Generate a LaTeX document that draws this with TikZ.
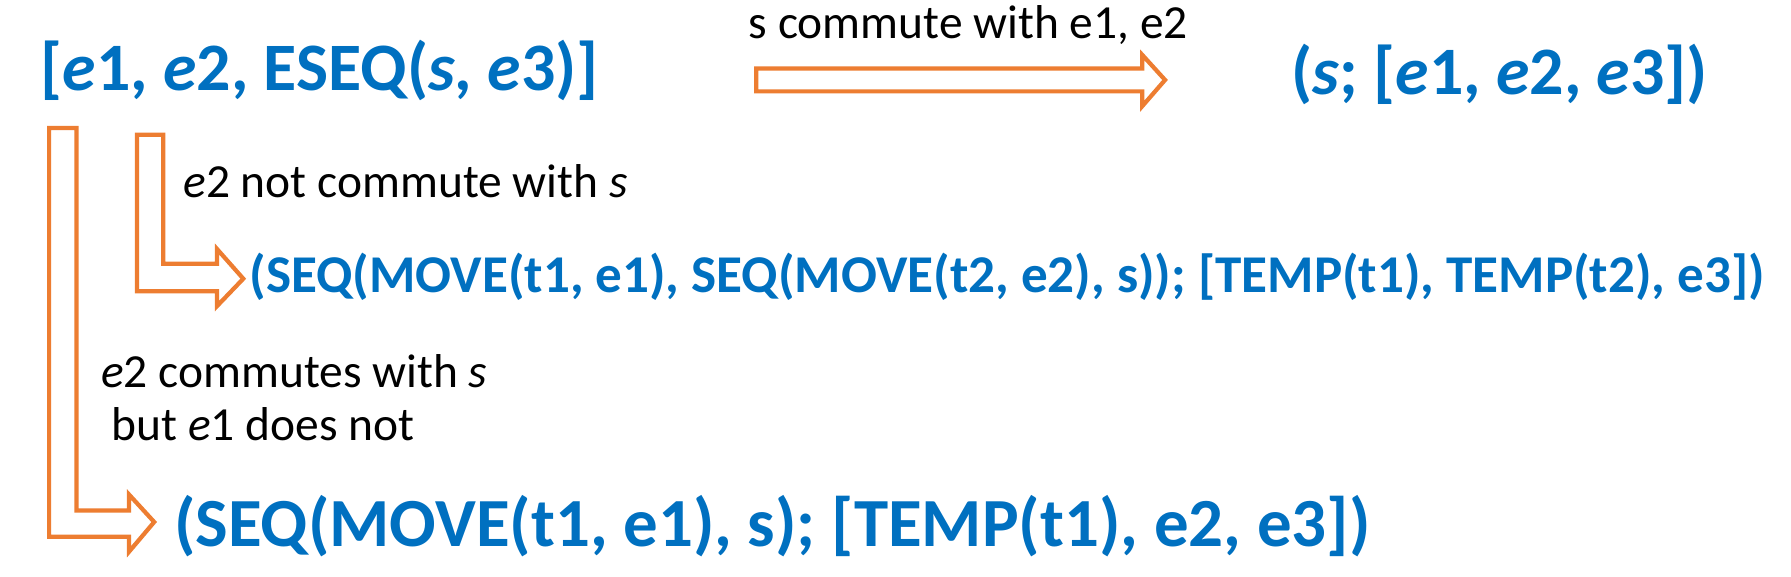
\documentclass[tikz,border=0pt]{standalone}
\usepackage{fontspec}
\setmainfont{Carlito}
\definecolor{tblue}{RGB}{0,112,192}
\definecolor{torange}{RGB}{237,125,49}
\begin{document}
\begin{tikzpicture}[x=0.01142cm,y=-0.01142cm,
  big/.style={anchor=west,inner sep=0,text=tblue,font=\bfseries\fontsize{19.3}{23}\selectfont},
  bot/.style={anchor=west,inner sep=0,text=tblue,font=\bfseries\fontsize{19.6}{23}\selectfont},
  mid/.style={anchor=west,inner sep=0,text=tblue,font=\bfseries\fontsize{15.1}{18}\selectfont},
  lbl/.style={anchor=west,inner sep=0,font=\fontsize{13.5}{16}\selectfont},
  harrow/.style={draw=torange,line width=1.2pt,fill=white}]
\useasboundingbox (0,0) rectangle (1568,505);
\node[big] (a) at (35,62) {[\textit{e}1, \textit{e}2, ESEQ(\textit{s}, \textit{e}3)]};
\node[big] (b) at (1130,65) {(\textit{s}; [\textit{e}1, \textit{e}2, \textit{e}3])};
\node[mid] (c) at (218,242) {(SEQ(MOVE(t1, e1), SEQ(MOVE(t2, e2), s)); [TEMP(t1), TEMP(t2), e3])};
\node[bot] (d) at (152,461) {(SEQ(MOVE(t1, e1), s); [TEMP(t1), e2, e3])};
\node[lbl] (l1) at (655,22) {s commute with e1, e2};
\node[lbl] (l2) at (160,159) {\textit{e}2 not commute with \textit{s}};
\node[lbl] (l3) at (88,325) {\textit{e}2 commutes with \textit{s}};
\node[lbl] (l4) at (97,371) {but \textit{e}1 does not};
\draw[harrow] (662,60) -- (1000,60) -- (1000,48) -- (1020,70) -- (1000,93) -- (1000,80) -- (662,80) -- cycle;
\draw[harrow] (120,118) -- (143,118) -- (143,231) -- (190,231) -- (190,218) -- (213,244) -- (190,268) -- (190,255) -- (120,255) -- cycle;
\draw[harrow] (43,112) -- (67,112) -- (67,447) -- (113,447) -- (113,433) -- (135,457) -- (113,483) -- (113,470) -- (43,470) -- cycle;
\end{tikzpicture}
\end{document}
